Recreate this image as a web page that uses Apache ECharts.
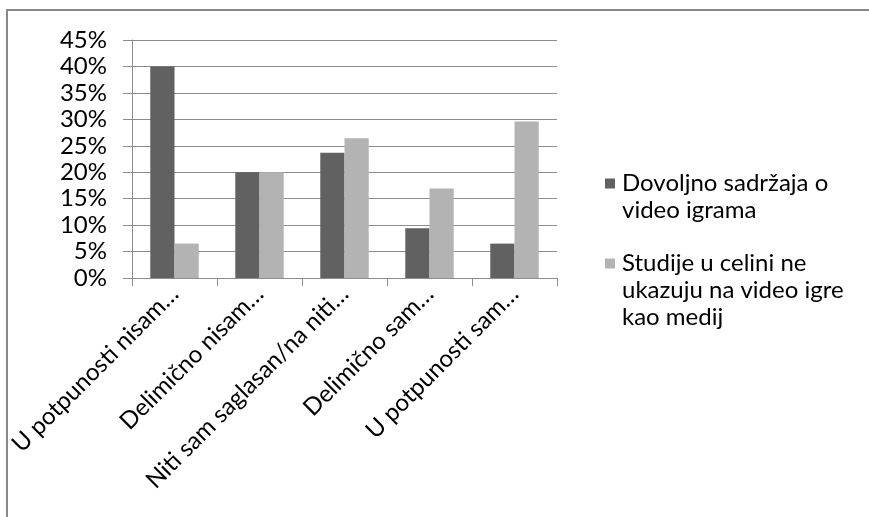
<!DOCTYPE html>
<html>
<head>
<meta charset="utf-8">
<title>Dovoljno sadržaja o video igrama</title>
<script src="https://cdn.jsdelivr.net/npm/echarts@6/dist/echarts.min.js"></script>
<style>
  html, body { margin: 0; padding: 0; background: #fff; }
  #chart { width: 869px; height: 517px; }
</style>
</head>
<body>
<div id="chart"></div>
<script>
// Answer categories (labels shortened as shown on the axis)
var categories = [
  'U potpunosti nisam…',
  'Delimično nisam…',
  'Niti sam saglasan/na niti…',
  'Delimično sam…',
  'U potpunosti sam…'
];

// Series names
var seriesNames = [
  'Dovoljno sadržaja o video igrama',
  'Studije u celini ne ukazuju na video igre kao medij'
];

// Share of responses, in percent
var dovoljnoSadrzaja = [40, 20, 23.7, 9.4, 6.5];
var studijeUCelini = [6.5, 20, 26.4, 16.9, 29.6];

// Value axis ticks
var yMin = 0;
var yMax = 45;
var yStep = 5;

var colors = ['#616161', '#b3b3b3'];
var fontFamily = 'Lato, "Open Sans", sans-serif';
var gridColor = '#8c8c8c';

// Legend text, wrapped the way it is laid out beside the plot
var legendLines = {};
legendLines[seriesNames[0]] = ['Dovoljno sadržaja o', 'video igrama'];
legendLines[seriesNames[1]] = ['Studije u celini ne', 'ukazuju na video igre', 'kao medij'];

function legendFormatter(name) {
  var idx = seriesNames.indexOf(name);
  var lines = legendLines[name];
  return lines.map(function (line, i) {
    var lead = i === 0 ? '{m' + idx + '|}{g|}' : '{sp|}';
    return lead + '{t|' + line + '}';
  }).join('\n');
}

var chart = echarts.init(document.getElementById('chart'), null, { renderer: 'canvas' });

chart.setOption({
  animation: false,
  backgroundColor: '#ffffff',
  textStyle: { fontFamily: fontFamily },
  graphic: [{
    type: 'rect',
    silent: true,
    shape: { x: 7, y: 10, width: 1000, height: 1000 },
    style: { fill: 'none', stroke: '#888888', lineWidth: 2 }
  }],
  grid: {
    left: 132,
    right: 312,
    top: 40,
    bottom: 239,
    containLabel: false
  },
  legend: {
    orient: 'vertical',
    left: 595,
    top: 165,
    icon: 'none',
    itemWidth: 0,
    itemHeight: 0,
    itemGap: 26,
    selectedMode: false,
    data: seriesNames,
    formatter: legendFormatter,
    textStyle: {
      fontFamily: fontFamily,
      fontSize: 24,
      color: '#000',
      lineHeight: 27,
      rich: {
        m0: { width: 10, height: 10, backgroundColor: colors[0], verticalAlign: 'middle', lineHeight: 27 },
        m1: { width: 10, height: 10, backgroundColor: colors[1], verticalAlign: 'middle', lineHeight: 27 },
        g: { width: 7, lineHeight: 27 },
        sp: { width: 17, lineHeight: 27 },
        t: { fontFamily: fontFamily, fontSize: 24, color: '#000', lineHeight: 27 }
      }
    }
  },
  xAxis: {
    type: 'category',
    data: categories,
    boundaryGap: true,
    axisLine: { show: true, lineStyle: { color: gridColor, width: 1 } },
    axisTick: { show: true, length: 8, inside: false, alignWithLabel: false, lineStyle: { color: gridColor } },
    axisLabel: {
      interval: 0,
      rotate: 45,
      margin: 12,
      fontFamily: fontFamily,
      fontSize: 24,
      color: '#000'
    },
    splitLine: { show: false }
  },
  yAxis: {
    type: 'value',
    min: yMin,
    max: yMax,
    interval: yStep,
    axisLine: { show: true, lineStyle: { color: gridColor, width: 1 } },
    axisTick: { show: true, length: 9, inside: false, lineStyle: { color: gridColor } },
    axisLabel: {
      formatter: '{value}%',
      margin: 25,
      fontFamily: fontFamily,
      fontSize: 24,
      color: '#000'
    },
    splitLine: { show: true, lineStyle: { color: gridColor, width: 1 } }
  },
  series: [
    {
      name: seriesNames[0],
      type: 'bar',
      data: dovoljnoSadrzaja,
      barGap: '0%',
      barCategoryGap: '43%',
      itemStyle: { color: colors[0] }
    },
    {
      name: seriesNames[1],
      type: 'bar',
      data: studijeUCelini,
      barGap: '0%',
      barCategoryGap: '43%',
      itemStyle: { color: colors[1] }
    }
  ]
});
</script>
</body>
</html>
